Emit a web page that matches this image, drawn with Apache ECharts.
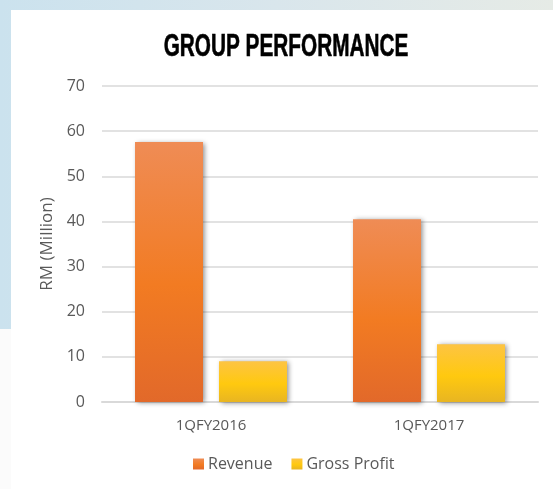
<!DOCTYPE html>
<html>
<head>
<meta charset="utf-8">
<script src="https://cdn.jsdelivr.net/npm/echarts@6/dist/echarts.min.js"></script>
<style>
  html, body {
    margin: 0;
    padding: 0;
    width: 553px;
    height: 489px;
    overflow: hidden;
  }
  body {
    position: relative;
    background: linear-gradient(to right, #cbe2ee 0%, #d9e6ec 50%, #e6ebe6 100%);
  }
  .left-strip {
    position: absolute;
    left: 0;
    top: 329px;
    width: 11px;
    height: 160px;
    background-color: #fbfbfb;
  }
  .panel {
    position: absolute;
    left: 11px;
    top: 10px;
    width: 542px;
    height: 479px;
    background-color: #ffffff;
  }
  #chart {
    position: absolute;
    left: 0;
    top: 0;
    width: 553px;
    height: 489px;
  }
</style>
</head>
<body>
<div class="left-strip"></div>
<div class="panel"></div>
<div id="chart"></div>
<script>
// chart data
const categories = ['1QFY2016', '1QFY2017']
const revenue = [57.6, 40.5]
const grossProfit = [9.0, 12.8]
const seriesNames = ['Revenue', 'Gross Profit']
const chartTitle = 'GROUP PERFORMANCE'

const chart = echarts.init(document.getElementById('chart'))

const labelColor = '#595959'
const labelFont = '"Open Sans", "Noto Sans", sans-serif'

function barGradient(top, mid, bottom) {
  return new echarts.graphic.LinearGradient(0, 0, 0, 1, [
    { offset: 0, color: top },
    { offset: 0.55, color: mid },
    { offset: 1, color: bottom }
  ])
}

const barShadow = {
  shadowColor: 'rgba(0, 0, 0, 0.45)',
  shadowBlur: 5,
  shadowOffsetX: 2,
  shadowOffsetY: 1
}

const option = {
  backgroundColor: 'transparent',
  animation: false,
  // condensed title: no narrow font installed, so squeeze a bold sans
  graphic: [
    {
      type: 'text',
      x: 286,
      y: 47,
      scaleX: 0.67,
      style: {
        text: chartTitle,
        font: 'bold 31px "Liberation Sans", Arial, sans-serif',
        fill: '#000000',
        stroke: '#000000',
        lineWidth: 0.6,
        align: 'center',
        verticalAlign: 'middle'
      }
    }
  ],
  legend: {
    data: seriesNames,
    bottom: 12,
    left: 188,
    itemWidth: 11,
    itemHeight: 11,
    itemGap: 19,
    icon: 'rect',
    textStyle: {
      color: labelColor,
      fontFamily: labelFont,
      fontSize: 16,
      padding: [0, 0, 0, -1]
    }
  },
  grid: {
    left: 102,
    right: 15,
    top: 86,
    bottom: 87
  },
  xAxis: {
    type: 'category',
    data: categories,
    axisLine: { lineStyle: { color: '#d9d9d9', width: 2 } },
    axisTick: { show: false },
    axisLabel: {
      color: labelColor,
      fontFamily: labelFont,
      fontSize: 15,
      margin: 16
    }
  },
  yAxis: {
    type: 'value',
    min: 0,
    max: 70,
    interval: 10,
    name: 'RM (Million)',
    nameLocation: 'middle',
    nameGap: 46,
    nameTextStyle: {
      color: labelColor,
      fontFamily: labelFont,
      fontSize: 17
    },
    axisLine: { show: false },
    axisTick: { show: false },
    axisLabel: {
      color: labelColor,
      fontFamily: labelFont,
      fontSize: 16,
      margin: 17
    },
    splitLine: { lineStyle: { color: '#d9d9d9', width: 1.5 } }
  },
  series: [
    {
      name: seriesNames[0],
      type: 'bar',
      data: revenue,
      barWidth: 68,
      barGap: '23.5%',
      itemStyle: Object.assign({ color: barGradient('#ef8c55', '#f27b22', '#e2692a') }, barShadow)
    },
    {
      name: seriesNames[1],
      type: 'bar',
      data: grossProfit,
      barWidth: 68,
      itemStyle: Object.assign({ color: barGradient('#fdc443', '#ffc90f', '#e8b522') }, barShadow)
    }
  ]
}

chart.setOption(option)
</script>
</body>
</html>
